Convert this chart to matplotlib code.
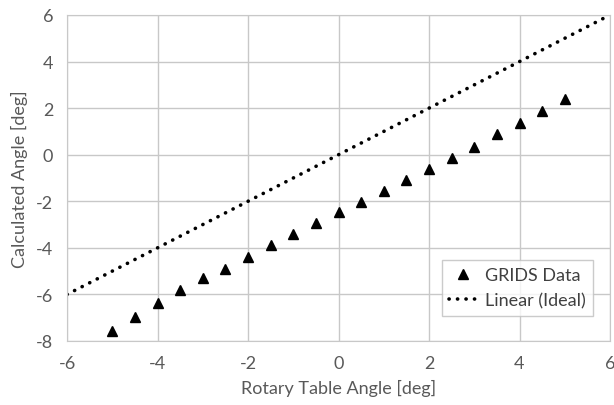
import numpy as np
import matplotlib.pyplot as plt

plt.rcParams['font.family'] = ['Lato', 'DejaVu Sans']
plt.rcParams['axes.unicode_minus'] = False

# rotary table angle and calculated angle (GRIDS)
table_angle = [-5, -4.5, -4, -3.5, -3, -2.5, -2, -1.5, -1, -0.5, 0,
               0.5, 1, 1.5, 2, 2.5, 3, 3.5, 4, 4.5, 5]
grids_angle = [-7.55, -6.95, -6.36, -5.8, -5.3, -4.89, -4.38, -3.89, -3.41, -2.92, -2.47,
               -2.03, -1.56, -1.1, -0.63, -0.14, 0.33, 0.89, 1.38, 1.88, 2.41]
ideal_x = [-6, 6]
ideal_y = [-6, 6]

fig = plt.figure(figsize=(6.14, 4.06), dpi=100)
ax = fig.add_axes([67/614, 1 - 342/406, 543/614, 326/406])

ax.plot(table_angle, grids_angle, linestyle='none', marker='^', markersize=7.5,
        color='black', label='GRIDS Data')
ax.plot(ideal_x, ideal_y, linestyle=(0, (0.05, 2.3)), linewidth=2.6,
        dash_capstyle='round', color='black', label='Linear (Ideal)')

ax.set_xlim(-6, 6)
ax.set_ylim(-8, 6)
ax.set_xticks(np.arange(-6, 7, 2))
ax.set_yticks(np.arange(-8, 7, 2))
ax.grid(True, color='#c8c8c8', linewidth=1)
ax.set_axisbelow(True)
for s in ax.spines.values():
    s.set_color('#c8c8c8')
ax.tick_params(length=0, labelsize=13, labelcolor='#595959', pad=10)

ax.set_xlabel('Rotary Table Angle [deg]', fontsize=13, color='#595959', labelpad=6)
ax.set_ylabel('Calculated Angle [deg]', fontsize=13, color='#595959', labelpad=6)

leg = ax.legend(loc='lower right', bbox_to_anchor=(0.985, 0.05), fontsize=13,
                frameon=True, fancybox=False, handlelength=1.6, handletextpad=0.4,
                borderpad=0.4, labelspacing=0.5)
leg.get_frame().set_edgecolor('#bfbfbf')
leg.get_frame().set_linewidth(1)
for t in leg.get_texts():
    t.set_color('#404040')

fig.savefig('out.png', dpi=100)
